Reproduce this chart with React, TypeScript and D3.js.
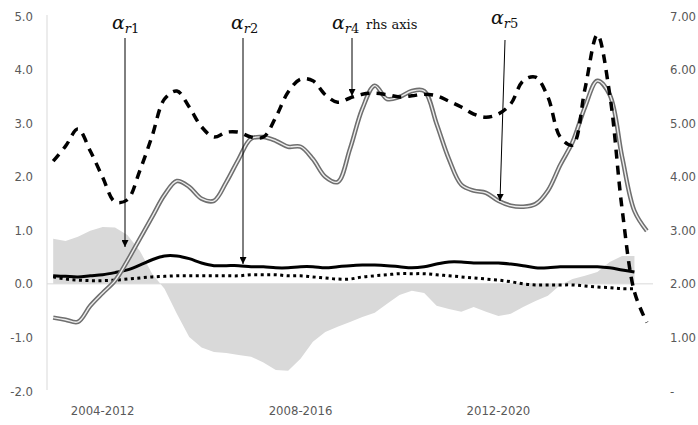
import React from "react";
import * as d3 from "d3";

// quarterly rolling windows, labels shown every 16th point
const tickIndex = [4, 20, 36];
const tickLabels = ["2004-2012", "2008-2016", "2012-2020"];

const leftTicks = [5, 4, 3, 2, 1, 0, -1, -2];
const rightTicks = [7, 6, 5, 4, 3, 2, 1, 0];

// grey area (lhs)
const areaValues = [
  0.84, 0.8, 0.88, 0.99, 1.06, 1.05, 0.91, 0.62, 0.19, -0.09, -0.56, -0.99, -1.19, -1.27, -1.29, -1.33,
  -1.36, -1.47, -1.61, -1.62, -1.4, -1.08, -0.9, -0.8, -0.71, -0.62, -0.54, -0.37, -0.21, -0.13, -0.17,
  -0.41, -0.47, -0.52, -0.43, -0.52, -0.6, -0.56, -0.43, -0.32, -0.22, -0.02, 0.09, 0.15, 0.22, 0.41, 0.52,
  0.52,
];

// alpha r2, solid black (lhs)
const solidValues = [
  0.15, 0.14, 0.13, 0.15, 0.17, 0.21, 0.26, 0.35, 0.45, 0.52, 0.52, 0.47, 0.39, 0.34, 0.34, 0.34, 0.32,
  0.32, 0.3, 0.3, 0.32, 0.32, 0.3, 0.32, 0.34, 0.35, 0.35, 0.34, 0.32, 0.3, 0.32, 0.37, 0.41, 0.41, 0.39,
  0.39, 0.39, 0.37, 0.34, 0.3, 0.3, 0.32, 0.32, 0.32, 0.32, 0.3, 0.26, 0.22,
];

// dotted black (lhs)
const dottedValues = [
  0.13, 0.09, 0.07, 0.06, 0.06, 0.07, 0.09, 0.11, 0.13, 0.14, 0.15, 0.15, 0.15, 0.15, 0.15, 0.15, 0.17,
  0.17, 0.17, 0.15, 0.15, 0.13, 0.11, 0.09, 0.09, 0.13, 0.15, 0.17, 0.19, 0.19, 0.19, 0.17, 0.15, 0.13,
  0.11, 0.09, 0.07, 0.04, 0.0, -0.02, -0.02, -0.02, -0.02, -0.04, -0.06, -0.07, -0.09, -0.09,
];

// alpha r5, double grey line (lhs)
const doubleValues = [
  -0.63, -0.67, -0.71, -0.41, -0.17, 0.06, 0.43, 0.84, 1.25, 1.66, 1.92, 1.81, 1.59, 1.55, 1.9, 2.33, 2.71,
  2.74, 2.67, 2.56, 2.56, 2.33, 2.0, 1.9, 2.52, 3.27, 3.7, 3.45, 3.49, 3.6, 3.6, 2.99, 2.33, 1.85, 1.74,
  1.7, 1.55, 1.46, 1.44, 1.49, 1.74, 2.22, 2.65, 3.3, 3.79, 3.53, 2.37, 1.36, 0.99,
];

// alpha r4, dashed black (rhs)
const dashedValues = [
  4.29, 4.57, 4.89, 4.48, 3.99, 3.53, 3.57, 4.11, 4.76, 5.45, 5.6, 5.3, 4.93, 4.74, 4.83, 4.83, 4.74,
  4.74, 5.11, 5.58, 5.82, 5.79, 5.53, 5.39, 5.47, 5.54, 5.56, 5.53, 5.49, 5.51, 5.54, 5.51, 5.41, 5.3,
  5.17, 5.11, 5.17, 5.36, 5.79, 5.86, 5.49, 4.74, 4.59, 5.64, 6.65, 5.54, 3.4, 1.85, 1.28,
];

const W = 698;
const H = 425;
const left = 47;
const right = 653;
const top = 16;
const bottom = 391;

const axisFont = "'DejaVu Sans Condensed', 'Liberation Sans Narrow', sans-serif";
const mathFont = "'DejaVu Serif', 'Liberation Serif', serif";

function Alpha({ x, y, sub }: { x: number; y: number; sub: string }) {
  return (
    <text x={x} y={y} fontFamily={mathFont} fill="#111">
      <tspan fontStyle="italic" fontSize={19}>α</tspan>
      <tspan fontStyle="italic" fontSize={13} dy={4}>r</tspan>
      <tspan fontSize={13}>{sub}</tspan>
    </text>
  );
}

export default function App() {
  const n = dashedValues.length;
  const x = d3.scaleBand<number>().domain(d3.range(n)).range([left, right]);
  const cx = (i: number) => (x(i) as number) + x.bandwidth() / 2;
  const yL = d3.scaleLinear().domain([-2, 5]).range([bottom, top]);
  const yR = d3.scaleLinear().domain([0, 7]).range([bottom, top]);

  const smoothL = d3
    .line<number>()
    .x((_, i) => cx(i))
    .y((d) => yL(d))
    .curve(d3.curveCatmullRom.alpha(0.5));
  const smoothR = d3
    .line<number>()
    .x((_, i) => cx(i))
    .y((d) => yR(d))
    .curve(d3.curveCatmullRom.alpha(0.5));
  const area = d3
    .area<number>()
    .x((_, i) => cx(i))
    .y0(yL(0))
    .y1((d) => yL(d));

  const arrows = [
    { x1: 125, y1: 38, x2: 125, y2: 247 },
    { x1: 243, y1: 38, x2: 243, y2: 264 },
    { x1: 352, y1: 38, x2: 352, y2: 96 },
    { x1: 505, y1: 40, x2: 500, y2: 201 },
  ];

  return (
    <svg width={W} height={H} style={{ position: "absolute", left: 0, top: 0, background: "#fff" }}>
      <defs>
        <marker id="arr" viewBox="0 0 10 10" refX="10" refY="5" markerWidth="7" markerHeight="7" orient="auto">
          <path d="M0,0 L10,5 L0,10 z" fill="#000" />
        </marker>
      </defs>

      <path d={area(areaValues) || ""} fill="#d9d9d9" />
      <line x1={left} x2={right} y1={yL(0)} y2={yL(0)} stroke="#d9d9d9" strokeWidth={1} />
      <line x1={left} x2={left} y1={top - 1} y2={bottom - 1} stroke="#d9d9d9" strokeWidth={1} />

      {leftTicks.map((t) => (
        <text key={t} x={33} y={yL(t)} dy="0.35em" textAnchor="end" fontFamily={axisFont} fontSize={13} fill="#595959">
          {t.toFixed(1)}
        </text>
      ))}
      {rightTicks.map((t) => (
        <text key={t} x={670} y={yR(t)} dy="0.35em" fontFamily={axisFont} fontSize={13} fill="#595959">
          {t === 0 ? "-" : t.toFixed(2)}
        </text>
      ))}
      {tickIndex.map((ti, k) => (
        <text key={ti} x={cx(ti)} y={410} dy="0.35em" textAnchor="middle" fontFamily={axisFont} fontSize={13} fill="#595959">
          {tickLabels[k]}
        </text>
      ))}

      <path d={smoothL(dottedValues) || ""} fill="none" stroke="#000" strokeWidth={3} strokeDasharray="3 3.5" />
      <path d={smoothL(solidValues) || ""} fill="none" stroke="#000" strokeWidth={3} />
      <path d={smoothL(doubleValues) || ""} fill="none" stroke="#6f6f6f" strokeWidth={4.5} />
      <path d={smoothL(doubleValues) || ""} fill="none" stroke="#eeeeee" strokeWidth={1.4} />
      <path d={smoothR(dashedValues) || ""} fill="none" stroke="#000" strokeWidth={3.5} strokeDasharray="9 7" />

      {arrows.map((a, i) => (
        <line key={i} x1={a.x1} y1={a.y1} x2={a.x2} y2={a.y2} stroke="#000" strokeWidth={1} markerEnd="url(#arr)" />
      ))}

      <Alpha x={112} y={29} sub="1" />
      <Alpha x={231} y={29} sub="2" />
      <Alpha x={332} y={29} sub="4" />
      <text x={366} y={29} fontFamily={mathFont} fontSize={13} fill="#111">rhs axis</text>
      <Alpha x={491} y={24} sub="5" />
    </svg>
  );
}
